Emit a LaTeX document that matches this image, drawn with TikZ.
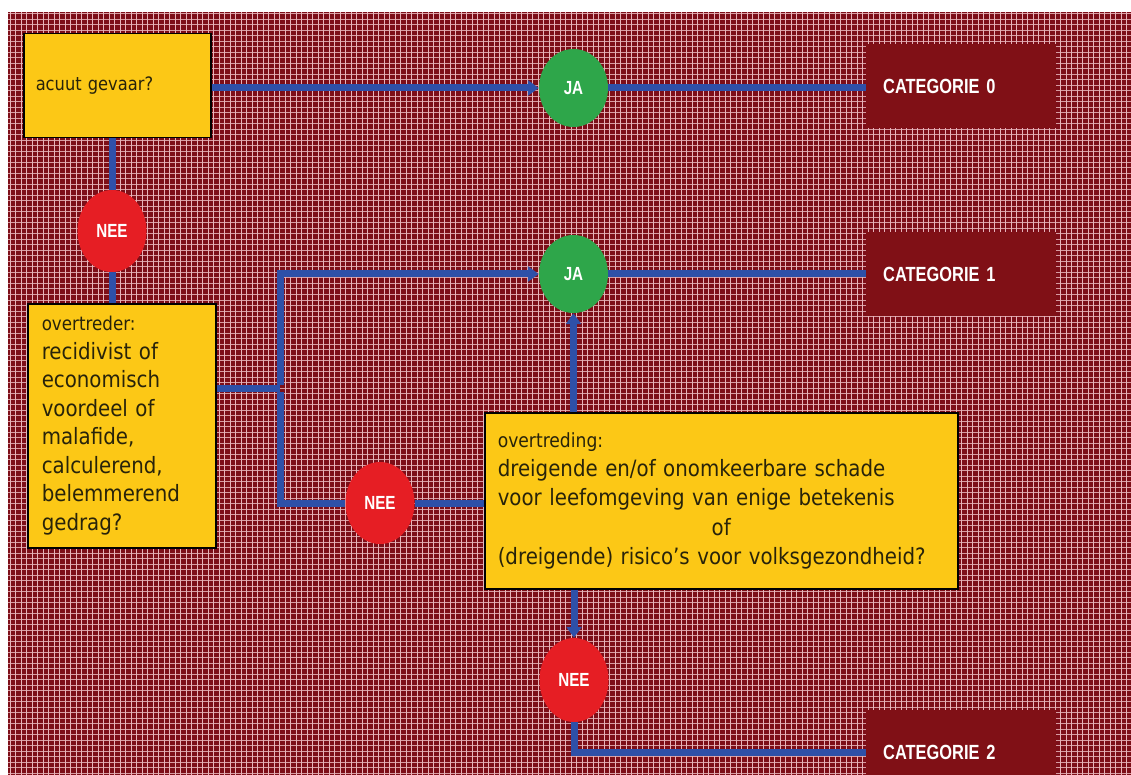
\documentclass[tikz,border=0pt]{standalone}
\usepackage{fontspec}
\usetikzlibrary{shapes.geometric,arrows.meta}
\newfontfamily\tahfont[FakeStretch=0.88]{DejaVu Sans}
\newfontfamily\catfont[FakeStretch=0.8]{Liberation Sans}
\definecolor{bgred}{RGB}{125,14,24}
\definecolor{gridpink}{RGB}{232,180,186}
\definecolor{boxyellow}{RGB}{252,200,22}
\definecolor{catred}{RGB}{128,16,22}
\definecolor{jagreen}{RGB}{46,166,74}
\definecolor{neered}{RGB}{230,30,36}
\definecolor{lineblue}{RGB}{46,80,168}
\definecolor{boxtext}{RGB}{40,35,10}
\begin{document}
\begin{tikzpicture}[x=1pt,y=-1pt,
  yellowbox/.style={draw=black, line width=1.5pt, fill=boxyellow, inner ysep=0pt,
    align=left, anchor=north west, text=boxtext},
  catbox/.style={fill=catred, inner xsep=17pt, inner ysep=0pt, anchor=north west,
    align=left, text width=156pt, minimum height=84pt,
    font=\catfont\bfseries\fontsize{20.5}{24}\selectfont, text=white},
  decision/.style={ellipse, minimum width=69pt, minimum height=78pt, inner sep=0pt,
    font=\catfont\bfseries\fontsize{19}{22}\selectfont, text=white},
  jacirc/.style={decision, fill=jagreen},
  neecirc/.style={decision, fill=neered},
  conn/.style={line width=7pt, draw=lineblue},
  arr/.style={conn, -{Triangle[length=11pt,width=15pt]}}
]
\clip (0,0) rectangle (1131,775);
\fill[white] (0,0) rectangle (1131,775);
% textured background
\fill[bgred] (8,12) rectangle (1131,775);
\foreach \x in {10,15.5,...,1131} \draw[gridpink, line width=1.0pt] (\x,12) -- (\x,775);
\foreach \y in {14,19.5,...,775} \draw[gridpink, line width=1.0pt, opacity=0.85] (8,\y) -- (1131,\y);

% boxes
\node[yellowbox, inner xsep=12pt, text width=163pt, minimum height=104pt,
  font=\tahfont\fontsize{18.5}{22}\selectfont] (acuut) at (23,33) {acuut gevaar?};
\node[yellowbox, inner xsep=14pt, text width=160pt, minimum height=244pt,
  font=\tahfont\fontsize{22.5}{28.5}\selectfont] (ovtr) at (27,303)
  {{\fontsize{19}{28.5}\selectfont overtreder:}\\
   recidivist of\\ economisch\\ voordeel of\\ malafide,\\ calculerend,\\ belemmerend\\ gedrag?};
\node[yellowbox, inner xsep=13pt, text width=447pt, minimum height=176pt,
  font=\tahfont\fontsize{22.5}{29.2}\selectfont] (ovtg) at (484,412)
  {{\fontsize{19.5}{29.2}\selectfont overtreding:}\\
   dreigende en/of onomkeerbare schade\\
   voor leefomgeving van enige betekenis\\
   \makebox[447pt]{of}\\
   (dreigende) risico’s voor volksgezondheid?};

\node[catbox] (cat0) at (866,44) {CATEGORIE 0};
\node[catbox] (cat1) at (866,232) {CATEGORIE 1};
\node[catbox] (cat2) at (866,710) {CATEGORIE 2};

\node[jacirc] (ja0) at (573.5,88) {JA};
\node[jacirc] (ja1) at (573.5,274) {JA};
\node[neecirc, minimum height=82pt] (nee1) at (112,231) {NEE};
\node[neecirc, minimum height=82pt] (nee2) at (380,503) {NEE};
\node[neecirc, minimum height=84pt] (nee3) at (574,680) {NEE};

\coordinate (j) at (280,388);

% connectors
\draw[arr] (acuut.east |- ja0) -- (ja0);
\draw[conn] (ja0) -- (cat0.west |- ja0);
\draw[conn] (acuut.south -| nee1) -- (nee1);
\draw[conn] (nee1) -- (ovtr.north -| nee1);
\draw[conn] (ovtr.east |- j) -- (j);
\draw[arr] ([yshift=3.5pt]j) |- (ja1.west);
\draw[conn] ([yshift=-3.5pt]j) |- (nee2.west);
\draw[conn] (nee2) -- (ovtg.west |- nee2);
\draw[conn] (ja1) -- (cat1.west |- ja1);
\draw[arr] (ovtg.north -| ja1) -- (ja1);
\draw[arr] (ovtg.south -| nee3) -- (nee3);
\draw[conn] (nee3) |- (cat2.west);
\end{tikzpicture}
\end{document}
